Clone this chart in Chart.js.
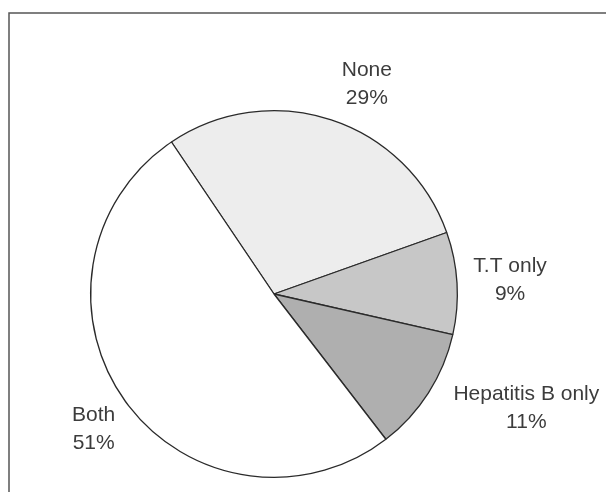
<!DOCTYPE html>
<html>
<head>
<meta charset="utf-8">
<script src="https://cdn.jsdelivr.net/npm/chart.js@4"></script>
<style>
  html, body { margin: 0; padding: 0; background: #fff; }
  #wrap { width: 606px; height: 492px; position: relative; }
</style>
</head>
<body>
<div id="wrap"><canvas id="grafico" width="606" height="492"></canvas></div>
<script>
// dados
const categorias = ["None", "T.T only", "Hepatitis B only", "Both"];
const valores = [29, 9, 11, 51];
const cores = ["#ededed", "#c7c7c7", "#afafaf", "#ffffff"];

// moldura do gráfico (linha superior e esquerda)
const moldura = {
  id: "moldura",
  beforeDraw(chart) {
    const c = chart.ctx;
    c.save();
    c.fillStyle = "#fff";
    c.fillRect(0, 0, chart.width, chart.height);
    c.strokeStyle = "#555";
    c.lineWidth = 1.5;
    c.beginPath();
    c.moveTo(chart.width, 13);
    c.lineTo(9, 13);
    c.lineTo(9, chart.height);
    c.stroke();
    c.restore();
  },
};

// rótulos fora das fatias
const rotulos = {
  id: "rotulos",
  afterDatasetsDraw(chart, args, opts) {
    const c = chart.ctx;
    const meta = chart.getDatasetMeta(0);
    c.save();
    c.font = "21px 'Liberation Sans', Arial, sans-serif";
    c.fillStyle = "#3c3c3c";
    c.textAlign = "center";
    c.textBaseline = "middle";
    meta.data.forEach((arc, i) => {
      const mid = (arc.startAngle + arc.endAngle) / 2 + (opts.giro[i] * Math.PI) / 180;
      const dist = arc.outerRadius * opts.fator[i];
      const x = arc.x + Math.cos(mid) * dist;
      const y = arc.y + Math.sin(mid) * dist;
      c.fillText(categorias[i], x, y - 14);
      c.fillText(valores[i] + "%", x, y + 14);
    });
    c.restore();
  },
};

new Chart(document.getElementById("grafico").getContext("2d"), {
  type: "pie",
  data: {
    labels: categorias,
    datasets: [{
      data: valores,
      backgroundColor: cores,
      borderColor: "#2a2a2a",
      borderWidth: 1.3,
    }],
  },
  options: {
    responsive: false,
    animation: false,
    rotation: -34,
    layout: { padding: { left: 90, right: 148, top: 110, bottom: 14 } },
    plugins: {
      legend: { display: false },
      tooltip: { enabled: false },
      rotulos: { fator: [1.25, 1.29, 1.51, 1.23], giro: [5.7, 0, -8.3, -1.1] },
    },
  },
  plugins: [moldura, rotulos],
});
</script>
</body>
</html>
